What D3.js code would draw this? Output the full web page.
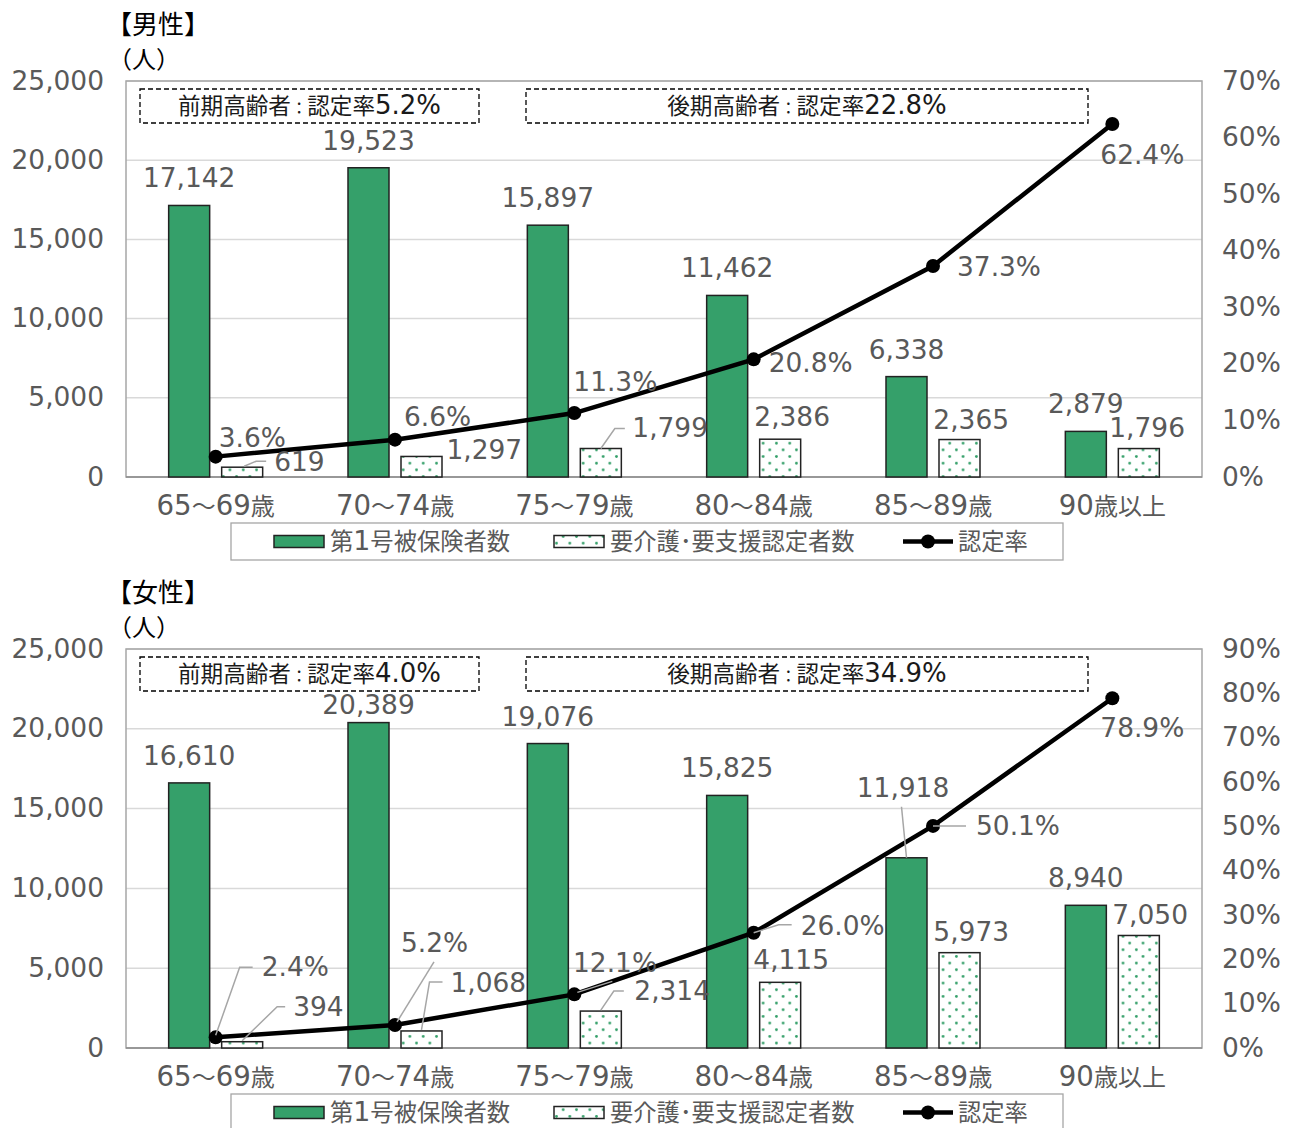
<!DOCTYPE html>
<html><head><meta charset="utf-8">
<script src="https://cdn.jsdelivr.net/npm/d3@7"></script>
<style>
html,body{margin:0;padding:0;background:#fff;}
svg text{font-family:"DejaVu Sans","Noto Sans CJK JP",sans-serif;}
</style></head>
<body>
<svg id="chart" width="1293" height="1128"></svg>
<script>
// ---------------- DATA ----------------
const categories = ["65～69歳","70～74歳","75～79歳","80～84歳","85～89歳","90歳以上"];
const seriesNames = ["第1号被保険者数","要介護･要支援認定者数","認定率"];
const panelTitles = ["【男性】","【女性】"];
const unitLabel = "（人）";
const maleInsured   = [17142,19523,15897,11462,6338,2879];
const maleCertified = [619,1297,1799,2386,2365,1796];
const maleRate      = [3.6,6.6,11.3,20.8,37.3,62.4];
const femaleInsured   = [16610,20389,19076,15825,11918,8940];
const femaleCertified = [394,1068,2314,4115,5973,7050];
const femaleRate      = [2.4,5.2,12.1,26.0,50.1,78.9];
const countTicks = [0,5000,10000,15000,20000,25000];
const maleRateTicks = [0,10,20,30,40,50,60,70];
const femaleRateTicks = [0,10,20,30,40,50,60,70,80,90];
const maleGroupRates = [5.2,22.8];
const femaleGroupRates = [4.0,34.9];
const groupNames = ["前期高齢者","後期高齢者"];

// ---------------- LAYOUT (positions / styles only) ----------------
const GREEN = "#35a06a";
const TXT = "#595959";
const S = 23;          // CJK size; latin is scaled up like Meiryo
const LAT = 1.15;
const maleLayout = {
  top:81, bottom:477,
  insLab:[[0,-18],[0,-18],[0,-18],[0,-18],[0,-18],[0,-18]],
  certLab:[[32,4,"start"],[25,2.5,"start"],[31.5,-11.5,"start"],[12,-13,"middle"],[11.7,-10.5,"middle"],[8.3,-11.5,"middle"]],
  rateLab:[[3,-10],[9,-14],[-1,-22],[15,13],[24,10],[-12,40]],
  insLead:{}, certLead:{0:[[2,-1],[14,-6],[24,-6]],2:[[0,0],[14,-20],[24,-20]]}, rateLead:{}
};
const femaleLayout = {
  top:649, bottom:1048,
  insLab:[[0,-18],[0,-9],[0,-18],[0,-18],[-3.5,-61],[0,-18]],
  certLab:[[51,-25.7,"start"],[29,-39,"start"],[33.5,-11,"start"],[11,-13.3,"middle"],[11.7,-11.7,"middle"],[11.3,-11.5,"middle"]],
  rateLab:[[46,-61.4],[6,-73],[-1.3,-22.4],[47,2.3],[43,9],[-12,39]],
  insLead:{4:[[0,0],[-5,-51]]},
  certLead:{0:[[0,-1],[35,-35],[43,-35]],1:[[0,-1],[8,-49],[21,-49]],2:[[0,-1],[13,-20],[23,-20]]},
  rateLead:{0:[[0,-2],[24,-70],[37,-70]],1:[[2,-3],[39,-63]],2:[[3,-2],[38,-13]],3:[[0,0],[25,-8],[38,-8]],4:[[0,0],[33,0]]}
};

const svg = d3.select("#chart");
const defs = svg.append("defs");
const P = 13.33;
const pat = defs.append("pattern").attr("id","dots").attr("patternUnits","userSpaceOnUse")
  .attr("width",P).attr("height",P);
pat.append("rect").attr("width",P).attr("height",P).attr("fill","#fff");
pat.append("circle").attr("cx",3.3).attr("cy",3.3).attr("r",1.4).attr("fill",GREEN);
pat.append("circle").attr("cx",3.3+P/2).attr("cy",3.3+P/2).attr("r",1.4).attr("fill",GREEN);

const fmt = d3.format(",");

// Meiryo-like mixed text: CJK runs in Noto Sans CJK JP, latin runs slightly larger in DejaVu Sans
function isCJK(ch){ return /[\u3000-\u9fff\uff00-\uffef]/.test(ch); }
function rich(t, str, size){
  const runs=[];
  for(const ch of str){
    const type = ch==="：" ? "colon" : (isCJK(ch) ? "cjk" : "lat");
    if(runs.length && runs[runs.length-1].type===type) runs[runs.length-1].s+=ch;
    else runs.push({type,s:ch});
  }
  t.text(null);
  runs.forEach(r=>{
    t.append("tspan")
      .attr("font-size", r.type==="lat" ? size*LAT : (r.type==="colon" ? size*0.72 : size))
      .style("font-family", r.type==="lat" ? '"DejaVu Sans",sans-serif' : '"Noto Sans CJK JP",sans-serif')
      .text(r.s);
  });
  return t;
}

function drawPanel(title, insured, certified, rate, rateTicks, groupRates, L) {
  const g = svg.append("g");
  const x = d3.scaleBand().domain(categories).range([126,1202]);
  const cx = c => x(c) + x.bandwidth()/2;
  const y = d3.scaleLinear().domain([0,25000]).range([L.bottom,L.top]);
  const yr = d3.scaleLinear().domain([0,rateTicks[rateTicks.length-1]]).range([L.bottom,L.top]);

  // title & unit
  g.append("text").attr("x",106).attr("y",L.top-47).attr("font-size",26).attr("fill","#000")
    .style("font-family",'"Noto Sans CJK JP",sans-serif').text(title);
  g.append("text").attr("x",108).attr("y",L.top-13).attr("font-size",24).attr("fill","#000")
    .style("font-family",'"Noto Sans CJK JP",sans-serif').text(unitLabel);

  // grid
  g.selectAll("line.grid").data(countTicks.slice(1)).join("line")
    .attr("x1",126).attr("x2",1202).attr("y1",d=>y(d)).attr("y2",d=>y(d))
    .attr("stroke","#d9d9d9").attr("stroke-width",1.5);
  g.append("rect").attr("x",126).attr("y",L.top).attr("width",1076).attr("height",L.bottom-L.top)
    .attr("fill","none").attr("stroke","#a6a6a6").attr("stroke-width",1.5);

  // axes
  const axL = g.append("g").attr("transform","translate(104,0)")
    .call(d3.axisLeft(y).tickValues(countTicks).tickFormat(fmt).tickSize(0).tickPadding(0));
  const axR = g.append("g").attr("transform","translate(1222,0)")
    .call(d3.axisRight(yr).tickValues(rateTicks).tickFormat(d=>d+"%").tickSize(0).tickPadding(0));
  const axB = g.append("g").attr("transform",`translate(0,${L.bottom})`)
    .call(d3.axisBottom(x).tickSize(0).tickPadding(20));
  [[axL,S],[axR,S],[axB,24]].forEach(([a,sz])=>{
    a.select(".domain").remove();
    a.selectAll("text").attr("fill",TXT).attr("font-size",25).each(function(){
      const t=d3.select(this); rich(t, t.text(), sz);
    });
  });
  g.append("line").attr("x1",126).attr("x2",1202).attr("y1",L.bottom).attr("y2",L.bottom)
    .attr("stroke","#8c8c8c").attr("stroke-width",1.5);

  // dashed group boxes
  const boxes = [[140,479],[526,1088]];
  boxes.forEach((b,i)=>{
    g.append("rect").attr("x",b[0]).attr("y",L.top+8).attr("width",b[1]-b[0]).attr("height",34)
      .attr("fill","#fff").attr("stroke","#000").attr("stroke-width",1.3).attr("stroke-dasharray","5,3");
    rich(g.append("text").attr("x",(b[0]+b[1])/2).attr("y",L.top+33).attr("text-anchor","middle")
      .attr("fill","#1a1a1a"), groupNames[i]+"：認定率"+groupRates[i].toFixed(1)+"%", 22.6);
  });

  // bars
  g.selectAll("rect.ins").data(insured).join("rect")
    .attr("x",(d,i)=>cx(categories[i])-47).attr("width",41)
    .attr("y",d=>y(d)).attr("height",d=>L.bottom-y(d))
    .attr("fill",GREEN).attr("stroke","#222").attr("stroke-width",1.5);
  g.selectAll("rect.cert").data(certified).join("rect")
    .attr("x",(d,i)=>cx(categories[i])+6).attr("width",41)
    .attr("y",d=>y(d)).attr("height",d=>L.bottom-y(d))
    .attr("fill","url(#dots)").attr("stroke","#222").attr("stroke-width",1.5);

  // line
  const pts = rate.map((r,i)=>[cx(categories[i]), yr(r)]);
  g.append("path").attr("d",d3.line()(pts)).attr("fill","none").attr("stroke","#000").attr("stroke-width",4.5);
  g.selectAll("circle.m").data(pts).join("circle").attr("cx",d=>d[0]).attr("cy",d=>d[1]).attr("r",7).attr("fill","#000");

  // leaders
  const lead = (ax,ay,off) => g.append("polyline")
    .attr("points",off.map(p=>[ax+p[0],ay+p[1]].join(",")).join(" "))
    .attr("fill","none").attr("stroke","#a6a6a6").attr("stroke-width",1.5);
  insured.forEach((d,i)=>{ if(L.insLead[i]) lead(cx(categories[i])-26.5, y(d), L.insLead[i]); });
  certified.forEach((d,i)=>{ if(L.certLead[i]) lead(cx(categories[i])+26.5, y(d), L.certLead[i]); });
  rate.forEach((d,i)=>{ if(L.rateLead[i]) lead(pts[i][0], pts[i][1], L.rateLead[i]); });

  // labels
  insured.forEach((d,i)=>{
    const o=L.insLab[i];
    rich(g.append("text").attr("x",cx(categories[i])-26.5+o[0]).attr("y",y(d)+o[1]).attr("text-anchor","middle")
      .attr("fill",TXT), fmt(d), S);
  });
  certified.forEach((d,i)=>{
    const o=L.certLab[i];
    rich(g.append("text").attr("x",cx(categories[i])+26.5+o[0]).attr("y",y(d)+o[1]).attr("text-anchor",o[2])
      .attr("fill",TXT), fmt(d), S);
  });
  rate.forEach((d,i)=>{
    const o=L.rateLab[i];
    rich(g.append("text").attr("x",pts[i][0]+o[0]).attr("y",pts[i][1]+o[1]).attr("text-anchor","start")
      .attr("fill",TXT), d.toFixed(1)+"%", S);
  });

  // legend
  const ly = L.bottom+46;
  g.append("rect").attr("x",231).attr("y",ly).attr("width",832).attr("height",37)
    .attr("fill","#fff").attr("stroke","#a6a6a6").attr("stroke-width",1.3);
  const my = ly+18.5;
  g.append("rect").attr("x",274).attr("y",my-6).attr("width",50).attr("height",12)
    .attr("fill",GREEN).attr("stroke","#222").attr("stroke-width",1.5);
  rich(g.append("text").attr("x",330).attr("y",my+8.5).attr("fill",TXT), seriesNames[0], 23.3);
  g.append("rect").attr("x",554).attr("y",my-6).attr("width",50).attr("height",12)
    .attr("fill","url(#dots)").attr("stroke","#222").attr("stroke-width",1.5);
  rich(g.append("text").attr("x",610).attr("y",my+8.5).attr("fill",TXT), seriesNames[1], 23.3);
  g.append("line").attr("x1",903).attr("x2",953).attr("y1",my).attr("y2",my).attr("stroke","#000").attr("stroke-width",4.5);
  g.append("circle").attr("cx",928).attr("cy",my).attr("r",7).attr("fill","#000");
  rich(g.append("text").attr("x",958).attr("y",my+8.5).attr("fill",TXT), seriesNames[2], 23.3);
}

drawPanel(panelTitles[0], maleInsured, maleCertified, maleRate, maleRateTicks, maleGroupRates, maleLayout);
drawPanel(panelTitles[1], femaleInsured, femaleCertified, femaleRate, femaleRateTicks, femaleGroupRates, femaleLayout);
</script>
</body></html>
